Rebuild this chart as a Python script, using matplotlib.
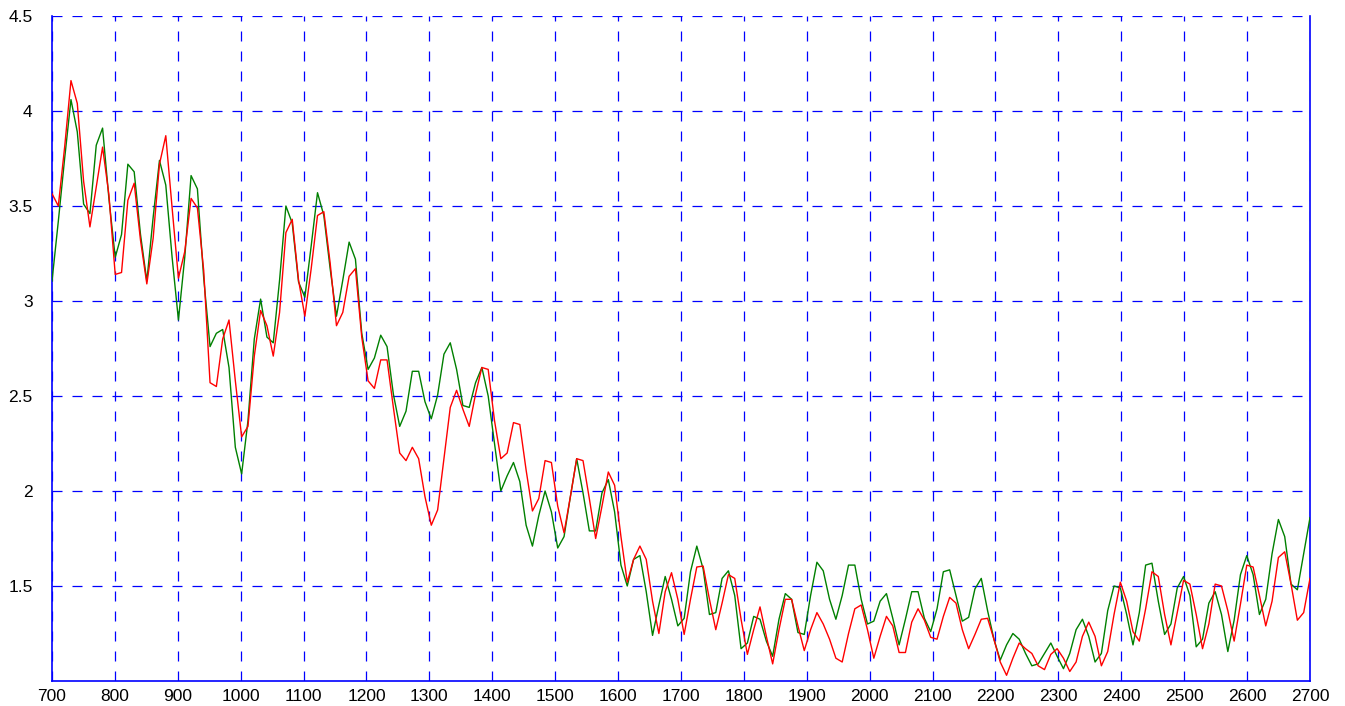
import numpy as np
import matplotlib
matplotlib.use("Agg")
import matplotlib.pyplot as plt

# sample positions: 200 samples spread over 700..2700
X_START, X_END, N_SAMPLES = 700, 2700, 200

RED = [
    3.565, 3.50, 3.81, 4.16, 4.04, 3.63, 3.39, 3.60, 3.81, 3.56,
    3.14, 3.15, 3.53, 3.62, 3.32, 3.09, 3.33, 3.72, 3.87, 3.49,
    3.12, 3.26, 3.54, 3.49, 3.16,
    2.57, 2.55, 2.80, 2.90, 2.58, 2.285, 2.34, 2.71, 2.95, 2.87,
    2.71, 2.94, 3.36, 3.43, 3.11, 2.92, 3.17, 3.45, 3.47, 3.20,
    2.87, 2.94, 3.13, 3.17, 2.81,
    2.58, 2.54, 2.69, 2.69, 2.44, 2.20, 2.16, 2.23, 2.17, 1.97,
    1.82, 1.90, 2.17, 2.44, 2.53, 2.43, 2.34, 2.51, 2.65, 2.64,
    2.37, 2.17, 2.20, 2.36, 2.35,
    2.11, 1.895, 1.96, 2.16, 2.15, 1.92, 1.78, 1.97, 2.17, 2.16,
    1.96, 1.75, 1.92, 2.10, 2.03, 1.76, 1.52, 1.64, 1.71, 1.64,
    1.42, 1.25, 1.47, 1.57, 1.43,
    1.245, 1.43, 1.60, 1.605, 1.43, 1.27, 1.41, 1.56, 1.54, 1.325,
    1.14, 1.27, 1.39, 1.235, 1.09, 1.27, 1.43, 1.43, 1.29, 1.16,
    1.27, 1.36, 1.30, 1.22, 1.12,
    1.10, 1.25, 1.38, 1.40, 1.27, 1.12, 1.235, 1.34, 1.29, 1.15,
    1.15, 1.31, 1.38, 1.32, 1.23, 1.22, 1.34, 1.44, 1.41, 1.27,
    1.17, 1.245, 1.325, 1.33, 1.22,
    1.10, 1.03, 1.12, 1.20, 1.17, 1.145, 1.08, 1.06, 1.14, 1.17,
    1.12, 1.05, 1.10, 1.235, 1.31, 1.235, 1.08, 1.155, 1.35, 1.52,
    1.42, 1.26, 1.21, 1.38, 1.575,
    1.55, 1.35, 1.19, 1.36, 1.53, 1.51, 1.35, 1.17, 1.30, 1.51,
    1.50, 1.37, 1.21, 1.405, 1.61, 1.60, 1.45, 1.29, 1.42, 1.65,
    1.68, 1.51, 1.32, 1.36, 1.54,
]

GREEN = [
    3.105, 3.42, 3.75, 4.06, 3.89, 3.51, 3.46, 3.82, 3.91, 3.54,
    3.23, 3.35, 3.72, 3.68, 3.35, 3.105, 3.44, 3.74, 3.61, 3.23,
    2.90, 3.23, 3.66, 3.59, 3.12,
    2.76, 2.83, 2.85, 2.65, 2.23, 2.09, 2.37, 2.80, 3.01, 2.81,
    2.78, 3.11, 3.50, 3.41, 3.10, 3.02, 3.29, 3.57, 3.45, 3.17,
    2.92, 3.11, 3.31, 3.22, 2.83,
    2.64, 2.70, 2.82, 2.76, 2.51, 2.34, 2.42, 2.63, 2.63, 2.47,
    2.38, 2.505, 2.72, 2.78, 2.64, 2.45, 2.44, 2.57, 2.65, 2.50,
    2.25, 2.00, 2.08, 2.15, 2.05,
    1.82, 1.71, 1.87, 2.00, 1.89, 1.70, 1.76, 1.97, 2.17, 1.99,
    1.79, 1.79, 1.99, 2.06, 1.89, 1.61, 1.50, 1.64, 1.66, 1.47,
    1.24, 1.40, 1.55, 1.43, 1.29,
    1.33, 1.575, 1.71, 1.59, 1.35, 1.36, 1.54, 1.58, 1.45, 1.17,
    1.20, 1.34, 1.325, 1.21, 1.13, 1.325, 1.46, 1.43, 1.255, 1.245,
    1.45, 1.625, 1.58, 1.43, 1.325,
    1.45, 1.61, 1.61, 1.43, 1.30, 1.315, 1.42, 1.46, 1.33, 1.19,
    1.325, 1.47, 1.47, 1.33, 1.26, 1.38, 1.575, 1.585, 1.45, 1.315,
    1.335, 1.485, 1.54, 1.37, 1.22,
    1.11, 1.19, 1.25, 1.22, 1.145, 1.08, 1.09, 1.145, 1.20, 1.13,
    1.065, 1.145, 1.27, 1.325, 1.235, 1.10, 1.145, 1.37, 1.50, 1.49,
    1.35, 1.19, 1.36, 1.61, 1.62,
    1.42, 1.245, 1.30, 1.49, 1.55, 1.45, 1.18, 1.22, 1.41, 1.47,
    1.35, 1.155, 1.32, 1.56, 1.66, 1.56, 1.35, 1.43, 1.67, 1.85,
    1.76, 1.51, 1.48, 1.67, 1.86,
]

X_TICKS = list(range(700, 2701, 100))
Y_TICKS = [1.5, 2, 2.5, 3, 3.5, 4, 4.5]
Y_TICK_LABELS = ["1.5", "2", "2.5", "3", "3.5", "4", "4.5"]

plt.rcParams["font.family"] = ["Liberation Sans", "DejaVu Sans"]
plt.rcParams["lines.scale_dashes"] = False

BLUE = "#0000FF"

fig = plt.figure(figsize=(13.45, 7.06), dpi=100)
ax = fig.add_axes([52 / 1345, 25 / 706, (1310 - 52) / 1345, (681 - 16) / 706])

x = np.linspace(X_START, X_END, N_SAMPLES)
ax.plot(x, GREEN, color="#008000", linewidth=1.0, zorder=3)
ax.plot(x, RED, color="#FF0000", linewidth=1.0, zorder=4)

ax.set_xlim(700, 2700)
ax.set_ylim(1.0, 4.5)
ax.set_xticks(X_TICKS)
ax.set_yticks(Y_TICKS)
ax.set_yticklabels(Y_TICK_LABELS)
ax.tick_params(length=0, labelsize=12.5, colors="black")
ax.tick_params(axis="y", pad=14)
ax.tick_params(axis="x", pad=6)

ax.grid(True, color=BLUE, linestyle=(0, (7.2, 7.2)), linewidth=0.9)
ax.set_axisbelow(True)

for side in ("left", "bottom", "right"):
    ax.spines[side].set_color(BLUE)
    ax.spines[side].set_linewidth(1.2)
ax.spines["top"].set_visible(False)

fig.savefig("out.png", dpi=100)
